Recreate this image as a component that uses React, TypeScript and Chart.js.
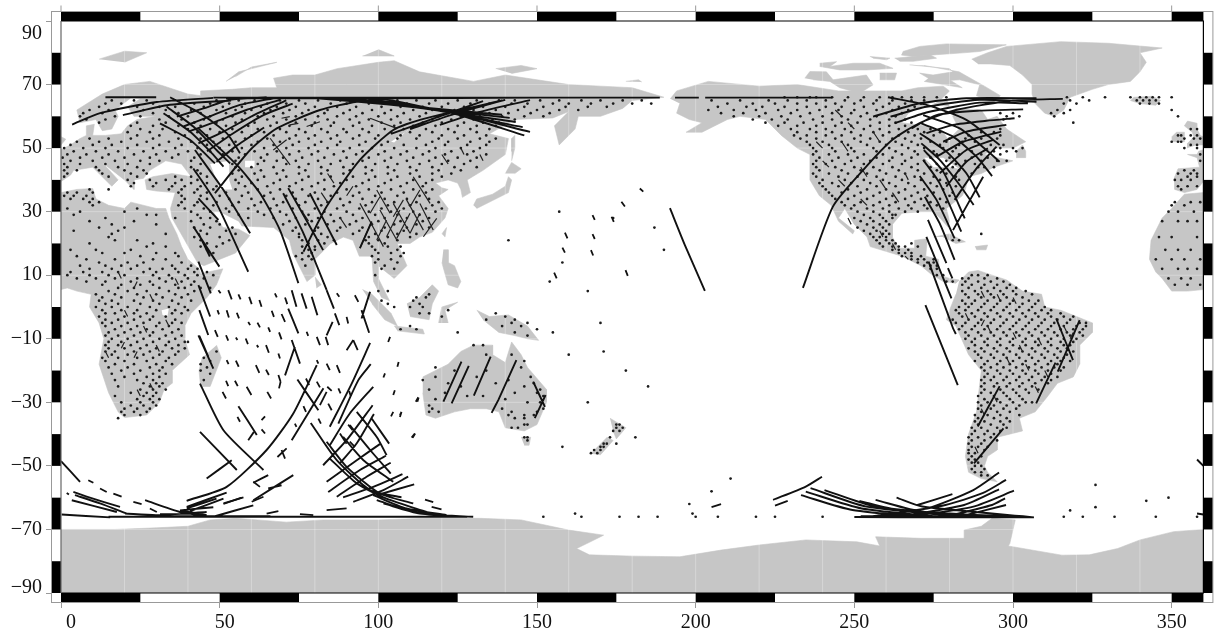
import React, { useEffect, useRef } from "react";
import { Chart, registerables } from "chart.js";
Chart.register(...registerables);

const xTicks = [0, 50, 100, 150, 200, 250, 300, 350];
const yTicks = [90, 70, 50, 30, 10, -10, -30, -50, -70, -90];
const gridLons = [20, 40, 60, 80, 100, 120, 140, 160, 180, 200, 220, 240, 260, 280, 300, 320, 340];
const gridLats = [70, 50, 30, 10, -10, -30, -50, -70];
const blackLonBands = [[0, 25], [50, 75], [100, 125], [150, 175], [200, 225], [250, 275], [300, 325], [350, 360]];
const blackLatBands = [[70, 80], [50, 60], [30, 40], [10, 20], [-10, 0], [-30, -20], [-50, -40], [-70, -60], [-90, -80]];

const land: number[][] = [
  // Africa, east of 0
  [0,36,5,37,10,37.3,11,34,15,32,20,31,22,33,30,31,33,31,34,28,36.5,23,38,19,40,15,43.5,12,44,10.5,51,12,49,7,46,3,41,-2,39,-6,39,-10,40.5,-15,35,-20,35,-24,32.5,-26,31,-30,27,-34,20,-34.8,18,-33,15,-27,12,-18,13.5,-10,12,-5,9,0,9.5,4,5,5,2,6,0,5.5],
  // Africa, west of 0
  [360,36,354,35.5,350,31,347,28,343.5,21,343,15,345,11,347,9,350,5,355,5,360,5.5],
  // Eurasia
  [0,49.5,3,51,6,53,8,54,8,57,10.5,57.5,10,54,14,54,19,54.5,21,57,24,59,30,60,23,60,21,63,25,65.5,22,65.8,17,62,18,60,16,56,13,55.5,11,59,6,58,5,62,13,67,20,70,28,71,40,67,44,66.5,44,68,54,68.5,60,69,68,69,67,72,73,73,80,73,87,75,100,77,105,77.5,113,74,130,71,140,73,160,70,170,69.5,180,69,190,66,180,65,177,62.5,170,60,163,60,162,56,157,51,155.5,57,160,61.5,155,59.5,143,59,135,54.5,141,53,140,48,133,43,128,40,129,36,126.5,34.5,126,37,125,39,122,40,118,39,120,37.5,122,37,119,35,122,31,121,28,117,23.5,113,22,110,20,106,20,109,13,105,9,100,13,100,9,103.5,2,101,3,98.5,8,98,16,94,16,92,21,89,22,85,20,80,15,80,10,77.5,8,73,17,72,21,67,25,57,25.5,56,27,50,30,48,30,51,25,56,24.5,59.5,22.5,55,17,45,13,43,14,39,21,35,28,34.5,31,36,36,30,36.5,27,37,26.5,40,29,41,35,42,41,41,38,45,33,46,28,43,26,40.5,23,40,23,37,20,40,13,45.5,18,40,16,38,10,44,4,43,3,41.5,0,39.5],
  // Iberia and west France
  [360,49.5,358.5,49,358,48,355,48,358,47,358.8,44,352,43.5,351,41,351,37,354,36,358,37,360,39.5],
  // Britain, Ireland, Iceland
  [358,51,360,51,361.5,52.8,359,54,358,56,358,57.8,355,58.5,354,57,356.5,55,357,53.5,355,51.5,355,50],
  [0,51,1.5,52.8,0,53.6],
  [350,52,354,52,354,55,351.5,55,350,53.5],
  [337,65,340,64,345,63.5,346.5,65,344,66.3,338,66],
  // Greenland
  [287,78,292,80,298,82,315,83.5,330,83,347,81.5,340,80,342,77,340,74,337,71,330,70,325,68.5,318,66,316,62,313,60,310,61,307,64,306,67,306,70,303,73,299,76,293,76.5,289,76.5],
  // North America
  [192,65.5,194,68,204,71,220,69.5,232,70,245,68,255,68,265,68,270,69,278,69.5,280,68,277,65,273,64,267,61,265,58,272,57,278,55,280,52,281,54,283,56,281,60,282,62.5,290,62,292,59,295,60,298,56,304,52,300,50,294,50,291,48,295,47,300,46,294,44,290,42,286,41,285,37,284,35,279,31,280,27,279.5,25.2,277,28,275,30,271,30,265,29.5,262,26,262,22,264,18.5,269,18.5,269,21,273,21.5,272.5,16,276.5,15,277,10,280,9,283,8.5,282,7.5,278,8,274,10.5,271,13,265,16,255,19,254,22,250,26,247,31,245,28,250,24,249.5,23,245,27,242.7,32,239,35,236,40,236,48,232,50,227,54,222,59,214,60,210,59,202,55,197,55,202,58,198,59,194,61,195,64],
  // Arctic Canada
  [265.3,80.4,270.6,82,279,82.8,297.9,82.5,289.5,80.4,283.2,79.9,275.9,79.4,268.5,78.8,264.8,79.3],
  [262.7,78.3,268.5,78.8,273.8,79.4,275.9,78.3,268.5,77.3,264.3,77.3],
  [254.9,78.8,261.2,78.3,260.1,77.8,255.9,78.3],
  [239.1,76.7,244.4,77.2,242.3,75.7,249.6,76.7,258,76.7,262.2,75.1,253.8,74.6,245.4,74.6,239.1,75.7],
  [234.4,72,236,74.1,241.2,74,243.3,71.5,253.8,73,255.9,69.9,251.7,67.3,245.4,69,242.3,71,237,71.5],
  [258,73.6,263.3,73.6,262.7,71.5,258,71.5],
  [267.4,76.2,280,75,281.1,74,274.8,73,270.6,73.6,275,71,283.2,71.5,289.5,69.9,288.5,66.5,294,64.5,296,66.5,291,69.5,283,74,272,76],
  [272,71,278,70,284,69,280,71.5,274,72.5],
  [275,64,280,63,279,65.5],
  // South America
  [283,8,286,11,289,11.5,292,10.5,298,8.5,303,5,309,4,310,0,315,-1,320,-3,325,-5,325,-8,321,-12,321,-18,319,-22,314,-24,311,-28,307,-33,302,-35,303,-39,295,-41,295,-45,292,-47,291,-50,292,-52,295,-55,290,-54,286,-52,285,-47,286,-40,288.5,-33,290,-20,286,-15,282,-6,279,-4,280,-1,282,4],
  // Australia
  [114,-22,122,-18,126,-14,130,-12,136,-12,136,-15,140,-17.5,142,-11,145,-15,147,-19,153,-26,153,-30,150,-37,146,-39,140,-38,138,-33,134,-32,129,-32,124,-33,118,-35,115,-34,114,-27],
  [145,-41,148,-41,147.5,-43.5,146,-43.5],
  // New Zealand
  [173,-35,178,-38,175,-41.5,174,-39],
  [172,-41,174,-42,170,-46.5,167,-46],
  // Madagascar
  [49,-12,50.5,-16,47,-25,44,-25,43.5,-20,44.5,-16],
  // Sumatra, Java, Borneo, Sulawesi, New Guinea
  [95,5.5,98,4,104,-2,106,-6,102,-4,98,1],
  [105,-6,114,-7,114.5,-8.5,106,-7.5],
  [109,1,113,3,117,7,119,5,117,1,116,-4,110,-3],
  [119,-5,120,0,125,1.5,121,-1,122,-5],
  [131,-1,135,-3,141,-2.5,147,-6,150.5,-10.5,147,-10,143,-9,138,-8,133,-4],
  [120.5,18,122,18,122,14,124,13,126,8,125,6,122,7,120,14],
  // Japan, Sakhalin, Taiwan, Sri Lanka
  [130,32,131,34,136,35.5,140,38,141,41,142,40,141,36,136,33.5,131,31],
  [140,42,142,45.5,145,43.5,143,42],
  [142,46,143,50,143,54,142,53,142,49],
  [120,23,121.5,25,121,22],
  [80,9.5,82,7,80.5,6],
  // Arctic Eurasia
  [52,71,56,74,68,77,60,75.5,55,72.5],
  [12,78,20,80.5,27,80,20,77],
  [95,79,105,79,100,81],
  [137,75,145,76,150,75,142,73.5],
  [178,71,182,71.5,183,70.8],
  // Caribbean, Newfoundland
  [275,22,280,23,285,20.5,282,20,278,22],
  [288,19,292,19.5,291.5,18,288.5,18],
  [301,47,304,47,304,49,303,51,301,49],
  // Antarctica
  [0,-70,17,-70,30,-69.5,40,-69,47,-67,55,-66.5,62,-67,71,-67.7,82.6,-67,100,-67,115,-66.5,132,-66.5,145,-67,160,-70.2,171,-71.8,167,-73.8,162.5,-76,166.5,-78,180.4,-78.4,195,-78.6,208,-76.5,220,-74.9,234.7,-73.3,250.8,-73.9,258,-75.2,256.7,-72.3,271,-72.8,284.6,-72.8,284.6,-70.2,290,-69,293.4,-66.5,300.7,-67,299,-74.4,298.5,-75.2,315.4,-78.1,324,-78,333,-76,340,-73.3,350.6,-70.7,360,-70,360,-90,0,-90],
];

const lakes: number[][] = [
  [47,45,53,46,53,40,54,37,50,37,49,40],
  [58,46,61,46,61,44,58,44],
  [275,44,280,44,283,43.5,278,47,272,47],
  [31.7,-1,34,-0.5,33.5,-3,32,-2.5],
  [104,52,110,56,109,55.5,105,51.8],
];

const tracks: number[][] = [
  // North America, ascending
  [233.8,6,243.2,31.5,252.7,43,262,52.6,270.6,57.9,282,62,300,65,315.7,65.5],
  [255.9,59.9,270.6,64.1,285.3,65.7,307.4,65.7],
  [261.4,59.9,272.7,63,289.5,65.2,307.4,64.6],
  [262.7,57.8,272.7,61.2,289.5,64.3,304.7,64.1],
  [268,56.2,275.9,60.4,289.5,61.8,303.2,62.2],
  [272.7,54.7,281.1,57.3,291.6,58.6,300.5,59.4],
  [278,52,285.3,55.2,297.9,57.3],
  [275.9,47.3,284.3,52,296.3,55.2],
  [276.9,42.1,285.3,49.4,293.7,52.6],
  [279,37.9,285.3,45.7,292.1,49.9],
  [281.6,33.7,288.5,43.6,294.8,50.5],
  [281.1,24.2,290.6,41],
  // North America, descending
  [260.6,66,272.7,63.6,285.3,58.9,295.8,51],
  [271.7,60.4,283.2,56.2,291.6,49.4,295.8,45.7],
  [271.1,57.8,281.1,53.6,288.5,47.3,293.4,41.2],
  [270.6,54.7,279,48.9,285.3,42.1,289.5,34.5],
  [271.1,51.5,276.9,46.3,283.2,38.4,287.6,32.1],
  [271.9,49.4,278,42.6,284.8,27.9],
  [271.7,46.3,276.9,38.9,283.7,23.7],
  [270.6,41.2,275.9,33.7,281.6,21.6],
  [272.2,34.7,276.9,26.3,281.6,14.8],
  [273.2,27.4,279,13.8],
  [272.7,22.1,280.6,2.7],
  [273.4,14.3,281.1,-6.7,282,-8.5],
  [272.4,0.6,282.6,-24.6],
  [279.5,12.2,280.9,9],
  [193.5,65.9,201,65.9],
  [203,65.9,243,65.9],
  // Central Pacific
  [191.9,31.1,196.6,19.5,202.9,5.1],
  // South America
  [313.6,-3.6,318.9,-16.7],
  [314.1,-20.3,321,-4.1],
  [307.3,-30.3,313.4,-17.5],
  [288.9,-37.6,295.8,-24.9],
  [287.7,-49.2,297,-38.2],
  // Australia
  [120.5,-29.8,126.2,-17.2],
  [123.1,-30.3,128.5,-18.5],
  [130.1,-27.9,135.4,-15.6],
  [137.8,-29.3,143.5,-16.7],
  [135.7,-33.3,137.8,-29.3],
  [148.8,-23.5,152.5,-31.4],
  [149.3,-35,152.7,-27.7],
  // South-east Pacific fan
  [239.8,-53.4,234.7,-56.5,224.4,-60.7],
  [233.2,-59.2,249.4,-63.9,272.8,-66.2],
  [234.7,-58.1,252.3,-63.4,278.7,-66.2],
  [236.2,-57,253.8,-62.8,286,-66.2],
  [240.6,-57.6,256.7,-62.8,293.4,-66.2],
  [251.6,-61,264,-63.9,300.7,-66.2],
  [256.7,-60.7,271.4,-64.4,306.6,-66.2],
  [263.3,-60,271.4,-62.8,306.6,-66.2],
  [253.8,-66,272.8,-63.4,287.5,-57.6,295.6,-52.1],
  [256.7,-66,278.7,-62.3,290.4,-58.6,297.8,-54.4],
  [264,-66,284.6,-62.3,295.6,-57.4],
  [267,-66,287.5,-62.8,300.3,-57.8],
  [278.7,-66,293.4,-62.3,297.5,-60.2],
  [283.1,-66,297.8,-62.3],
  [269.9,-62.3,280.9,-58.9],
  [250,-66.1,278,-66.2,306.6,-66.2],
  [252,-65.8,280,-65.9,300,-66],
  // Arabia, East Africa, Indian Ocean descending
  [41.7,43.6,49,32.6,59,11.1],
  [41.7,25.3,49.9,12.7],
  [43.3,34.2,49.6,27.4],
  [43.3,14.3,47.2,4.3],
  [43.3,6.9,47,-3],
  [43.6,-1,46.4,-8.8],
  [43.6,-9.1,46.4,-15.6],
  [43.3,-8.9,48,-19.4],
  [42.2,49.4,51.2,36.8,59.6,23.2],
  [43.3,23.2,46.9,15.9],
  [43.3,56.2,55.4,44.7,62.7,35.8,69,24.2,74.8,7.5],
  [70,35.8,76.4,23.2,83.7,5.4],
  [71.6,37.4,77.9,26.3,82.6,17.9],
  [78.4,35.8,86.9,19.5],
  // Asia ascending arcs
  [76.4,17.4,83.7,31.6,94.2,46.3,104.7,55.7,113.1,58.9,139,65],
  [48.5,35.8,59.6,49.4,68,56.2,81.6,62,93.2,64.6,108,65.9],
  [94.2,18.5,97.9,26.9],
  // Top, Europe to Asia
  [3.5,57.4,12.3,61,30.2,64.5,47.9,65.8],
  [19.5,60.4,33.4,63.5,53.6,65],
  [36.5,59.9,44.9,62.5,53.3,65.2,64.8,66],
  [38.6,56.8,47.9,60.4,56.4,63.6,67,65.7],
  [40.1,55.2,49,58.4,58.4,62,69,65.2],
  [43.3,51.5,51.2,55.2,60.8,60.4,71,65],
  [46,49,54.3,54.7,63.8,60.4,73,64],
  [49,45.7,55.3,50.7,64,56.5],
  [34.4,66,43.8,61,52.2,54.7,56.4,48.4],
  [33.3,63,41.7,56.8,49,49.4,53.3,45.2],
  [32.3,61,40.6,55.2,47.5,48.4,51.2,44.2],
  [31.2,57.8,40.6,52.6,48.5,45.2],
  [95,65.9,122,61.5,147.8,55.1],
  [90,65.9,118,62,145.5,56.6],
  [86,65.9,114,62.5,143.3,58.2],
  [82,65.9,110,63,141.4,59.5],
  [78,65.9,106,63.5,139,60.5],
  [100,65.9,124,60.8,146,54],
  [119.4,57.3,132,61.4,147.8,65.1],
  [110,56,124,60.8,140,65.2],
  [104,54.5,118,59.5,133,64.8],
  [14,66,30,66],
  [48,65.9,120,65.9,165,65.9],
  [52,65.7,100,65.7,150,65.9],
  [160,65.9,188.7,65.9],
  // South Indian Ocean, ascending
  [39.6,-61,52.2,-56.6,64.8,-45,73.2,-33.5,80.6,-18.3],
  [72.7,-41.9,82.7,-25.6],
  [70.6,-21.5,73.7,-12.5],
  [97.4,-11.3,91.6,-24.1,84.7,-37.7],
  [97.6,-18,93.7,-23,87.4,-36.7],
  [98.4,-25.1,91,-33.5,84.7,-43.5],
  [98.2,-30.9,90,-41.9,82.6,-49.8],
  [98.6,-33.7,93.2,-42.9,87.9,-49.2],
  [100.7,-43,93.2,-48.2,83.7,-55],
  [102.4,-46.8,94.2,-51.3,84.2,-58.2],
  [103.9,-49,96.3,-53.4,86.9,-59.7],
  [107.6,-52.6,98.4,-56.6,88.9,-59.9],
  [109.4,-53.4,101.6,-57.6,92.1,-61.3],
  [111.3,-55.8,99.5,-59.2],
  [97.4,4.8,94.7,-3.6],
  [94.7,-1,97.1,-8.1],
  [85.6,-4.7,83.7,-8.9],
  // South Indian Ocean, descending
  [43.8,-24.1,51.2,-38.8,63.8,-51.3],
  [43.8,-39.3,55.4,-51.3],
  [45.9,-54,53.8,-48.2],
  [55.9,-31.2,61.7,-40.3],
  [72.7,-10.4,75.3,-17.8],
  [74.5,-22.8,81.1,-32.5],
  [72.7,5.3,74.2,0.1],
  [75.8,4.3,77.4,-0.5],
  [79,3.2,80.8,-2.6],
  [71.6,-0.5,74.8,-8.3],
  [83.7,5.3,86,-0.5],
  [86.3,-2,87.7,-5.7],
  [97.9,-35.1,103.4,-43],
  [93.2,-33,99.5,-40.9,102.6,-46.6],
  [91,-37.2,97.4,-45,103.9,-52.4],
  [88.9,-40.9,95.3,-48.2,104.7,-55],
  [78.7,-36.5,86.9,-48.2,97.4,-57.6,107.3,-59.9],
  [83.7,-42.4,90,-50.3,100.5,-58.7,111,-61.8],
  [84.7,-47.7,93.2,-55.5,102.6,-60.3,115.2,-64.5],
  [98.4,-59.2,108.9,-63.4,121.5,-65.5],
  [99.5,-60.8,111,-64.5,124.7,-66],
  [101.6,-61.8,113.1,-65,129.9,-66],
  // South-west fans
  [0.2,-65.3,15.5,-66.2],
  [3.9,-58.2,8.1,-59.7,18.6,-62.9],
  [4.4,-59.2,12.3,-61.8,20.7,-65],
  [3.4,-60.8,17.6,-64.5],
  [26.5,-60.8,37.5,-64.5,48,-66],
  [39.6,-62.9,52.2,-58.4],
  [39.6,-63.4,49,-60.3],
  [51.2,-61.8,57.5,-59.9],
  [60.6,-60.8,73.2,-52.9],
  [65.3,-57.1,69.5,-56.1],
  [60.6,-55.3,65.3,-52.9],
  [37.5,-64,48,-63],
  [48,-66,60.6,-62.4],
  [20.2,-65,30.2,-65.5,45.9,-64.5],
  [31.2,-65.2,43.8,-65],
  [37.5,-64,45.9,-65.5],
  [40.7,-64.2,51.2,-60.3],
  [15,-66,75,-66,128,-66],
  [30,-65.8,50,-65.8,66,-65.8],
  [0,-48.5,6,-55],
  [358,-48,360,-50],
  [358,-65,360,-65.3],
];

const dashes: number[][] = [
  [182.4,37.3,183.5,36.3],[176.6,33.1,177.7,31.6],[167.5,28.9,168.2,27.4],[173.5,28.4,174.2,26.8],[158.8,23.4,159.6,21.6],[167.5,22.9,168.2,21.4],[158,18.7,158.8,17.1],[167,17.9,167.7,16.2],[155.4,10.8,156.2,9],[177.9,11.6,178.6,9.8],
  [111.8,-29.8,112.6,-28.4],[110.5,-41.1,111.5,-39.8],[106.8,-34,107.3,-33],
  [49.3,-1,49.8,-2.3],[52.2,-1,52.9,-3.3],[55.4,-1.8,56.1,-3.6],[59,-4.7,59.6,-5.7],[61.9,-4.9,62.7,-6.4],[65.3,-6.4,65.9,-7.8],[68.7,-8,69.5,-10.2],[48.5,-7.3,49.4,-9.4],[52,-8.9,52.7,-10.6],[55.1,-9.6,55.6,-10.4],[58.2,-9.9,58.9,-11.7],[61.7,-12,62.2,-12.7],[64.6,-12,65.5,-14.4],[68.5,-14.6,69,-16.2],[80.6,-9.4,81.6,-12],[83.4,-9.4,84.2,-12],[52.2,-16.7,52.8,-18],[55.1,-16.9,56,-18.8],[61.4,-18.3,62.5,-20.7],[64.6,-19.7,65.5,-21.4],[52,-23.2,52.7,-24.9],[54.8,-23.2,55.7,-24.9],[58.5,-25.1,60,-27.7],[50.9,-26.7,52,-28.8],[65,-26.7,66.2,-28.8],[59.3,3.2,60.1,0.9],[62.5,2.2,63.2,0.1],[66.4,-1.2,67.1,-3.1],[69.5,-2.2,70.6,-4.7],[77.4,-7.8,77.9,-9.1],[67.4,4.3,68,3],[70.6,3,71.3,0.9],[55.9,4,56.6,2.4],[52.7,5.3,53.8,2.4],[49.6,5.3,50.3,4.3],[90,-3.1,90.5,-5.2],[92.6,3.7,93.7,1.6],[86.9,4.3,87.7,3.2],[80.6,-16.7,81.1,-17.8],[83.7,-17.8,84.7,-19.9],[86.9,-18.3,87.9,-20.7],[77.2,-22.5,78.2,-24.6],[80.6,-23.5,81.6,-25.3],[83.9,-25.1,85.3,-26.4],[87.4,-25.6,88.1,-27.2],[90.8,-26.4,91.3,-28],[68.5,-21.4,69.2,-23.5],[69.2,-23.5,68.7,-25.6],[90,-13.6,92.1,-10.4],[92.1,-10.4,93.5,-13.6],[103.1,-11,103.7,-9.4],[101.6,-22.2,102.1,-20.9],[106,-18.8,106.4,-17.3],[104.7,-27.7,105.2,-26.2],[112.3,-29.8,112.7,-28.5],[104,-34.4,104.7,-33],[106.8,-34.6,107.3,-33],[110.8,-41.2,111.6,-39.8],[55.6,-34.6,56.4,-36.1],[63.2,-35.6,64.3,-34.4],[59,-41.9,60.8,-39.3],[63.2,-38.5,64.3,-39.8],[73.7,-36.7,74.2,-37.7],[81.1,-35.1,81.9,-36.7],[76.4,-31.2,77.2,-33],[68.2,-47.2,71.1,-44.5],[69.5,-45,70.6,-47.7],[83.7,-26.7,81.6,-30.9],[84.2,-30.4,85.3,-32.5],[90.5,-37,91.9,-38.8],[87.9,-39.8,90,-43],[91,-42.4,92.6,-44],
  [114.7,-60.6,117.3,-61.4],[116.8,-62.9,119.9,-63.7],[83.7,-63.9,90,-63.4],[75.3,-65.2,79.5,-65.5],[1.8,-58.5,2.5,-59],[12.3,-57.1,14.4,-58.2],[16.5,-58.7,19.1,-59.7],[22.8,-61.3,25.4,-62],[8.6,-54.5,10.2,-55.3],[51.2,-62,56.9,-60],[60.1,-61.3,63.8,-59.7],[64.8,-65,68.5,-64.2],[28,-63.4,30.2,-64.5],[60.6,-55,62.7,-56.6],[205,-63,208,-62],[225,-62.5,229,-61],
];

// Short runs of marks over land, thinner than the open-ocean tracks
const landDashes: number[][] = [
  // China and East Asia
  [94.2,18.5,97.9,26.9],[99.5,21.1,102.6,27.4],[102.6,22.1,106.8,30.5],[105.8,21.6,110,29.5],[110,23.2,113.1,29.5],[114.2,22.1,118.4,27.9],[100.5,34.7,97.4,29.5],[107.9,33.7,104.7,28.4],[113.1,36.8,110,31.6],[97.4,26.9,101.6,19],[100.5,30.5,105.8,21.1],[104.7,32.6,110,23.2],[108.9,33.7,114.2,24.2],[113.1,32.6,117.3,24.2],[94.2,32.6,97.4,26.9],[99.5,36.8,103.7,29.5],[111,41,116.3,32.6],
  [97.4,59.4,105.8,56.2],[65.9,53.1,72.2,44.7],[66.9,49.4,71.1,52.6],[77.4,56.8,81.6,58.3],[72.1,57.3,74.8,57.8],[69.5,59.4,72.1,59.9],[84,42,86,39],[82,36,84,33],[92,38,90,35],[76,30,78,27],[88,28,90,25],[120,48,122,45],[126,50,127,48],[132,48,133,46],
  // North America
  [246,52,248,49],[252,44,254,41],[258,40,260,37],[262,36,264,33],[252,34,254,32],[248,28,249,26],[258,24,259,22],[262,20,263,18],[266,16,267,15],[238,52,240,50],[240,46,242,44],[245,40,247,38],[266,42,267,40],[256,55,258,52],[248,58,250,56],[244,62,246,60],
  // South America
  [290,5,291,3],[295,4,296,2],[300,3,301,1],[285,-2,286,-4],[292,-6,293,-8],[300,-8,301,-10],[308,-10,309,-12],[298,-16,299,-18],[304,-18,305,-20],[310,-20,311,-22],[316,-6,317,-8],[319,-8,318,-10],[294,-28,295,-30],[290,-32,291,-34],[288,-44,289,-46],[291,-4,290,-6],[303,-14,302,-12],[307,-25,308,-27],
  // Africa
  [18,11,19,9],[24,8,23,6],[28,4,29,2],[20,-1,21,-3],[26,-6,27,-8],[30,-12,31,-14],[20,-11,19,-13],[24,-14,23,-16],[14,-14,15,-16],[28,-24,29,-26],[24,-26,25,-28],[36,9,37,7],[33,-4,34,-6],
];

// Each row: latitude first, then the longitudes of the marks on that row
const dotRows: number[][] = [
  [65,16,23,27,49,56,61,69,75,81,88,94,99,106,112,118,125,131,138,143,151,157,164,170,177,183],
  [64,14,19,29,42,47,53,58,65,71,77,85,90,97,103,109,116,122,129,135,142,147,155,160,167,174,180,186],
  [63,12,24,31,36,45,51,57,63,68,74,80,87,93,101,107,114,120,127,133,140,146,152,159,166,172],
  [62,9,15,26,33,41,49,55,60,66,72,78,84,91,98,104,111,117,124,130,137,144,150,157,163],
  [61,7,13,29,37,44,52,58,64,70,76,83,89,95,102,108,115,122,128,135,141,148,154],
  [60,6,17,25,34,40,47,54,62,67,74,81,87,93,100,106,113,119,126,132,139,146,152],
  [59,8,14,31,38,45,51,57,65,71,77,84,91,97,104,110,117,123,130,136,143],
  [58,12,24,33,42,49,55,61,68,74,80,86,94,101,107,114,120,127,133,138],
  [57,22,29,37,44,52,59,66,72,79,85,92,98,105,111,118,125,131,137],
  [56,25,32,40,47,54,62,69,75,82,89,95,102,108,115,122,129,135],
  [55,21,28,36,43,50,57,64,71,77,84,90,97,104,110,117,124,131],
  [54,24,31,39,46,53,60,67,74,80,87,94,100,107,113,120,127,134],
  [53,9,15,22,29,37,44,51,58,65,72,78,85,92,99,106,112,119,125,132,137],
  [52,5,12,19,27,34,41,48,55,62,69,75,82,88,96,103,117,122,129,135],
  [51,3,10,16,24,31,38,46,53,60,67,73,80,87,94,101,108,115,121,128,134],
  [50,1,7,14,21,29,36,43,50,57,64,71,78,84,91,98,105,112,118,126,132],
  [49,4,11,18,26,33,40,47,54,61,68,75,81,89,95,102,109,116,123,130],
  [48,2,8,15,23,30,37,44,51,58,65,72,79,86,93,100,107,114,121,128,134],
  [47,0.5,6,13,20,28,35,42,56,63,70,76,83,90,97,104,111,118,125,131],
  [46,3,10,17,25,31,41,55,64,68,74,81,88,95,102,109,116,122,129],
  [45,1,6,14,21,28,44,54,62,71,78,85,92,99,106,113,120,127],
  [44,2,11,18,24,41,55,60,67,75,82,89,96,103,110,117,124,131],
  [43,1,5,12,20,26,43,56,63,70,77,84,91,98,105,112,119,126],
  [42,2,13,22,27,44,54,61,68,75,82,89,96,103,110,117,123],
  [41,1,15,24,36,41,46,57,64,71,78,85,92,99,106,113,120],
  [40,21,28,33,38,43,55,62,69,76,83,90,97,104,111,117],
  [39,23,30,36,41,46,56,60,67,74,81,88,95,102,109,115],
  [38,22,29,35,39,44,49,58,65,72,79,86,93,100,107,114],
  [37,9,15,34,38,43,48,55,62,69,76,83,90,97,104,111,117],
  [36,2,5,10,37,42,46,52,59,66,73,80,87,94,101,108,115],
  [35,1,4,8,38,44,50,57,64,71,78,85,92,99,106,113],
  [34,3,7,10,39,46,53,60,67,74,81,88,95,102,109,116],
  [33,9,12,38,43,49,56,63,70,77,84,91,98,105,112,119],
  [32,10,37,42,48,54,61,68,75,82,89,96,103,110,117],
  [31,2,24,39,45,52,59,66,73,80,87,94,101,108,115,120],
  [30,6,20,41,47,53,62,69,76,83,90,97,104,111,118],
  [29,4,27,30,43,56,64,71,78,85,92,99,106,113],
  [28,14,36,44,47,59,67,74,81,88,95,102,109,116],
  [27,9,23,41,49,72,79,86,93,100,107,114],
  [26,16,30,45,50,70,77,84,91,98,105,112],
  [25,20,12,42,47,54,74,81,88,95,102,109,116],
  [24,18,4,44,52,73,80,87,94,101,108],
  [23,16,33,46,55,75,82,92,99,106,112],
  [22,15,42,50,75,84,97,103,110],
  [21,24,17,44,53,76,81,86,96,100,106],
  [20,9,29,46,51,78,83,97,102],
  [19,27,33,44,49,76,80,98,103,107],
  [18,11,3,22,46,78,80,99,106],
  [17,13,20,30,36,48,76,79,100,104,108],
  [16,5,25,37,74,78,98,107],
  [15,8,17,29,33,76,79,100,104],
  [14,12,21,26,38,99,106],
  [13,6,14,19,24,35,41,77,102],
  [12,9,16,22,28,32,36,40,43,101,105],
  [11,3,7,13,18,26,30,37,42,46],
  [10,2,9,15,20,29,34,39,43,48,99],
  [9,5,11,17,24,31,35,40,45],
  [8,8,14,22,28,33,38,42],
  [7,13,19,25,29,36,41],
  [6,18,23,31,37,39,44,47],
  [5,15,21,27,34,42,100,103],
  [4,11,17,24,30,36,40,116],
  [3,13,19,26,32,38,112,115],
  [2,12,16,23,29,35,41,101,111],
  [1,14,18,25,31,37,103,113],
  [0,11,16,21,28,34,39,105,110,114],
  [-1,13,19,24,30,36,40,122],
  [-2,14,17,23,27,35,38,137,116,113],
  [-3,12,20,25,29,33,140,120],
  [-4,14,18,23,28,36,134,143],
  [-5,13,16,21,26,31,35,38,142,147],
  [-6,14,19,24,30,34,139,145,110],
  [-7,17,22,27,32,37,107,112,150],
  [-8,15,20,25,29,35,125,143],
  [-9,14,18,23,28,33,38,147],
  [-10,16,21,26,31,36],
  [-11,15,19,24,29,34,39,40],
  [-12,14,18,22,27,33,37,130,133],
  [-13,15,20,25,30,35,39],
  [-14,14,17,23,28,32,37,49],
  [-15,16,21,26,31,36,134,142],
  [-16,13,18,24,29,34,45],
  [-17,14,20,27,33,47,146],
  [-18,17,23,30,35,44],
  [-19,15,21,28,32,46,118,145],
  [-20,19,25,31,44,124,134],
  [-21,16,23,29,33,47],
  [-22,20,27,31,118,131,148],
  [-23,17,24,29,45,114,141],
  [-24,26,30,32,122,137,149],
  [-25,18,28,31,126,146],
  [-26,25,29,33,116,151],
  [-27,22,27,30,121,143,150],
  [-28,17,26,29,128,133,152],
  [-29,24,28,31,118,140],
  [-30,19,25,29,147,151],
  [-31,22,26,30,116],
  [-32,20,24,28,117,139,152],
  [-33,19,23,27,116,119,142,150],
  [-34,20,25,141,146,149],
  [-35,18,143,146],
  [-37,146,147],
  [-38,142,144],
  [-41,147,146],
  [-42,147],
  [-37,176,175],[-38,177,175],[-39,176,174],[-41,173],[-43,171,172],[-44,170,171],[-45,168,170],[-46,167,169],[-44,158],
  // Pacific specks
  [21,141],[30,157],[28,174],[14,158],[8,154],[5,166],[-5,170],[-14,171],[-20,178],[-25,185],[-8,155],[-15,160],[-30,166],[-41,181],[-43,175],[25,187],[18,190],[-65,199],[-66,176],[-66,182],[-66,188],[-66,200],[-66,207],[-66,219],[-66,225],[-66,240],[-66,164],[-66,152],[-65,162],[-58,205],[-62,198],[-54,211],[-66,316],[-66,322],[-64,318],[-63,326],[-61,342],[-60,349],[-56,326],[-66,345],[-66,332],[-66,358],
  // Greenland, Iceland, Atlantic
  [66,317,322,329,337,340,342,344,346,350],[65,318,324,339,341,343,345],[64,316,320,340,343,346],[62,314,318],[61,312,316],[60,313],[58,319],[62,350],[60,352],[52,350,352,353],[54,352,353,356,358],[56,356,358],[53,354,357,359],[51,356,358],[50,354,358],[48,359],[46,359],[43,354,357],[42,352,356,358],[41,355,358],[40,351,353,356],[38,352,355,358],[37,353],[33,351,356,359],[32,350,354],[30,349,352,357],[27,347,352,355,358],[22,346,350,358],[18,348,352,356],[15,345,350,354,359],[12,347,352,355,358],[9,349,353,356],[7,351,355,359],
  // North America
  [66,258,262,265,268,272,276,279,228,232,236,238,243,248,253],
  [65,205,214,223,229,235,241,247,252,257,262,268,272],
  [64,210,218,225,232,238,244,250,256,261,266,271],
  [63,207,216,221,228,235,241,246,253,259,264,269],
  [62,204,212,219,226,232,239,245,250,257,262,267],
  [61,208,215,222,230,236,243,249,254,260,265,296,300],
  [60,212,220,227,233,240,246,252,257,263,298,302],
  [59,218,224,229,237,243,248,255,261,266,297],
  [58,222,228,234,240,246,251,258,263,268],
  [57,226,232,238,244,249,255,261,266],
  [56,230,236,241,247,253,258,264,270,274,296],
  [55,232,238,243,249,256,261,267,272,277,290,294],
  [54,231,235,241,246,252,259,264,269,275,286,292,296],
  [53,233,238,244,250,255,262,266,271,280,285,290,295],
  [52,235,240,246,252,258,263,268,274,279,284,288],
  [51,236,242,248,254,260,265,270,277,283,293,297],
  [50,237,243,249,256,261,267,272,278,282,296,300,303],
  [49,238,244,250,257,263,269,275,281,287,294,298,301],
  [48,237,242,248,253,259,265,270,276,283,290,296],
  [47,239,245,251,257,262,268,274,280,287,292],
  [46,238,243,249,255,261,266,272,279,285,290,295,298],
  [45,237,241,247,253,259,265,270,276,282,288],
  [44,238,244,250,256,262,268,274,281,289,291,294],
  [43,239,246,252,258,264,270,276,283],
  [42,237,242,248,254,260,266,272,279,287],
  [41,238,245,251,257,263,269,275,282],
  [40,240,247,253,259,265,271,277,283],
  [39,239,243,249,255,261,267,274,279],
  [38,240,245,251,257,263,269,276,282],
  [37,241,248,254,260,266,272,278],
  [36,242,246,252,258,264,270,275,281],
  [35,243,250,256,262,268,273,280],
  [34,244,248,254,260,266,271,277],
  [33,246,252,258,263,269,274,279],
  [32,247,250,256,261,267,272,276],
  [31,249,254,259,264,268,273,278],
  [30,251,256,261,266,270],
  [29,253,258,262,263],
  [28,250,255,259,262],
  [27,252,256,260],
  [26,254,258,261],
  [25,251,256,259],
  [24,253,257,260],
  [23,255,259,261,290],
  [22,256,258,260],
  [21,257,260,262,281,283],
  [20,258,261,263,268],
  [19,259,262,264,266,270],
  [18,262,264,267],
  [17,264,266,268],
  [16,265,268,271],
  [15,268,270,272,275],
  [14,270,273,275],
  [13,272,274,276],
  [12,274,276],
  [10,276,278],[8,279,281],
  // South America
  [10,287,289,292],[9,284,286,291,295],[8,285,289,293,297],[7,284,287,291,295,299],[6,286,290,294,298,301],[5,284,288,292,296,300,304],[4,285,289,293,297,301,306],[3,286,290,294,298,303],[2,284,288,292,296,300,305,308],[1,285,287,291,295,299,303,307],[0,283,286,290,294,298,302,306,310],[-1,282,285,289,293,297,301,305,309,312],[-2,283,287,291,295,299,303,307,311,315],[-3,284,288,292,296,300,304,308,312,316,319],[-4,281,286,290,294,298,302,306,310,314,318],[-5,282,285,289,293,297,301,305,309,313,317,321,323],[-6,284,288,292,296,300,304,308,312,316,320,323],[-7,283,287,291,295,299,303,307,311,315,319,322],[-8,285,289,293,297,301,305,309,313,317,321],[-9,286,290,294,298,302,306,310,314,318,322],[-10,285,288,292,296,300,304,308,312,316,320],[-11,287,291,295,299,303,307,311,315,319],[-12,288,292,296,300,304,308,312,316,318],[-13,286,290,294,298,302,306,310,314,317],[-14,288,291,295,299,303,307,311,315,319],[-15,289,293,297,301,305,309,313,317],[-16,290,294,298,302,306,310,314,316],[-17,288,292,296,300,304,308,312,315,318],[-18,291,295,299,303,307,311,314],[-19,290,293,297,301,305,309,313,316],[-20,291,295,299,303,307,311,315],[-21,292,296,300,304,308,312],[-22,291,294,298,302,306,310,314],[-23,290,293,297,301,305,309,312],[-24,291,295,299,303,307,311],[-25,290,294,298,302,306],[-26,291,296,300,304,308],[-27,290,293,297,301,305],[-28,289,294,298,302],[-29,291,295,299,303],[-30,289,292,296,300,304,306],[-31,290,294,298,302],[-32,289,293,297,301],[-33,290,295,299],[-34,288,292,296,302],[-35,289,294,298],[-36,288,291,296,299],[-37,289,293,297],[-38,287,290,295,298],[-39,288,292,296],[-40,287,291,294],[-41,286,289,293],[-42,287,291,295],[-43,286,290],[-44,287,289,292],[-45,286,291],[-46,286,288],[-47,287,290],[-48,286,288],[-49,287,289],[-50,288,290],[-51,287,291],[-52,288,290],[-53,290,292],
];

const points = (flat: number[]) => {
  const out: { x: number; y: number }[] = [];
  for (let i = 0; i < flat.length; i += 2) out.push({ x: flat[i], y: flat[i + 1] });
  return out;
};
const joined = (lists: number[][]) => {
  const out: { x: number | null; y: number | null }[] = [];
  lists.forEach((l) => {
    out.push(...points(l));
    out.push({ x: null, y: null });
  });
  return out;
};
const dotPoints = dotRows.flatMap(([lat, ...lons]) => lons.map((x) => ({ x, y: lat })));
const gridPoints = [
  ...gridLons.flatMap((x) => [{ x, y: -90 }, { x, y: 90 }, { x: null, y: null }]),
  ...gridLats.flatMap((y) => [{ x: 0, y }, { x: 360, y }, { x: null, y: null }]),
];

const frame = {
  id: "frame",
  afterDraw(chart: any) {
    const { ctx, chartArea: a, scales } = chart;
    const X = (v: number) => scales.x.getPixelForValue(v);
    const Y = (v: number) => scales.y.getPixelForValue(v);
    const band = 9.5;
    ctx.save();
    ctx.fillStyle = "#fff";
    ctx.fillRect(a.left, a.top - band, a.width, band);
    ctx.fillRect(a.left, a.bottom, a.width, band);
    ctx.fillRect(a.left - band, a.top - band, band, a.height + 2 * band);
    ctx.fillRect(a.right, a.top - band, band, a.height + 2 * band);
    ctx.fillStyle = "#000";
    blackLonBands.forEach(([p, q]) => {
      ctx.fillRect(X(p), a.top - band, X(q) - X(p), band);
      ctx.fillRect(X(p), a.bottom, X(q) - X(p), band);
    });
    blackLatBands.forEach(([p, q]) => {
      ctx.fillRect(a.left - band, Y(q), band, Y(p) - Y(q));
      ctx.fillRect(a.right, Y(q), band, Y(p) - Y(q));
    });
    ctx.lineWidth = 1;
    ctx.strokeStyle = "#999";
    ctx.strokeRect(a.left - band, a.top - band, a.width + 2 * band, a.height + 2 * band);
    ctx.beginPath();
    xTicks.forEach((v) => {
      ctx.moveTo(X(v), a.top - band);
      ctx.lineTo(X(v), a.top - band - 6);
    });
    ctx.stroke();
    ctx.strokeStyle = "#000";
    ctx.lineWidth = 1.2;
    ctx.beginPath();
    ctx.moveTo(a.left, a.top);
    ctx.lineTo(a.right, a.top);
    ctx.lineTo(a.right, a.bottom);
    ctx.lineTo(a.left, a.bottom);
    ctx.stroke();
    ctx.strokeStyle = "#666";
    ctx.beginPath();
    ctx.moveTo(a.left, a.top);
    ctx.lineTo(a.left, a.bottom);
    ctx.stroke();
    ctx.restore();
  },
};

const tickFont = { family: "'Liberation Serif', serif", size: 20 };

export default function App() {
  const ref = useRef<HTMLCanvasElement>(null);
  useEffect(() => {
    const chart = new Chart(ref.current as HTMLCanvasElement, {
      type: "scatter",
      data: {
        datasets: [
          ...land.map((p) => ({
            data: points(p), showLine: true, fill: "shape", backgroundColor: "#c6c6c6",
            borderColor: "#c6c6c6", borderWidth: 0.6, pointRadius: 0, tension: 0, order: 6,
          })),
          ...lakes.map((p) => ({
            data: points(p), showLine: true, fill: "shape", backgroundColor: "#fff",
            borderColor: "#fff", borderWidth: 0, pointRadius: 0, tension: 0, order: 5,
          })),
          { data: gridPoints, showLine: true, borderColor: "rgba(255,255,255,0.3)", borderWidth: 1, pointRadius: 0, spanGaps: false, order: 4 },
          { data: dotPoints, showLine: false, pointRadius: 1.35, pointBackgroundColor: "#1c1c1c", pointBorderWidth: 0, order: 3 },
          { data: joined(landDashes), showLine: true, borderColor: "#222", borderWidth: 1.2, pointRadius: 0, spanGaps: false, order: 2 },
          { data: joined(dashes), showLine: true, borderColor: "#111", borderWidth: 1.8, pointRadius: 0, spanGaps: false, order: 1 },
          { data: joined(tracks), showLine: true, borderColor: "#111", borderWidth: 1.9, pointRadius: 0, tension: 0.22, spanGaps: false, order: 0 },
        ] as any,
      },
      options: {
        animation: false,
        responsive: false,
        events: [],
        layout: { padding: { top: 21, right: 11.6, left: 0, bottom: 0 } },
        plugins: { legend: { display: false }, tooltip: { enabled: false } },
        scales: {
          x: {
            type: "linear", min: 0, max: 360,
            afterBuildTicks: (s: any) => { s.ticks = xTicks.map((value) => ({ value })); },
            afterFit: (s: any) => { s.height = 40; },
            grid: { drawOnChartArea: false, drawTicks: true, tickLength: 15, tickColor: "#999" },
            border: { display: false },
            ticks: {
              color: "#111", font: tickFont, padding: 3, maxRotation: 0, autoSkip: false,
              callback: (v: any) => (v === 0 ? "\u2002\u20020" : v === 50 ? "\u200250" : String(v)),
            },
          },
          y: {
            type: "linear", min: -90, max: 90,
            afterBuildTicks: (s: any) => { s.ticks = yTicks.map((value) => ({ value })); },
            afterFit: (s: any) => { s.width = 61; },
            grid: { drawOnChartArea: false, drawTicks: true, tickLength: 15, tickColor: "#999" },
            border: { display: false },
            ticks: {
              color: "#111",
              font: (c: any) => ({ ...tickFont, lineHeight: c.tick?.value === 90 ? 1.3 : c.tick?.value === -90 ? 0.5 : 1.2 }),
              padding: 4, autoSkip: false,
              callback: (v: any) => {
                const t = String(v).replace("-", "\u2212");
                return v === 90 ? ["", t] : v === -90 ? [t, ""] : t;
              },
            },
          },
        },
      } as any,
      plugins: [frame],
    });
    return () => chart.destroy();
  }, []);
  return (
    <div style={{ position: "fixed", left: 0, top: 0, width: 1215, height: 633, background: "#fff" }}>
      <canvas ref={ref} width={1215} height={633} style={{ display: "block" }} />
    </div>
  );
}
